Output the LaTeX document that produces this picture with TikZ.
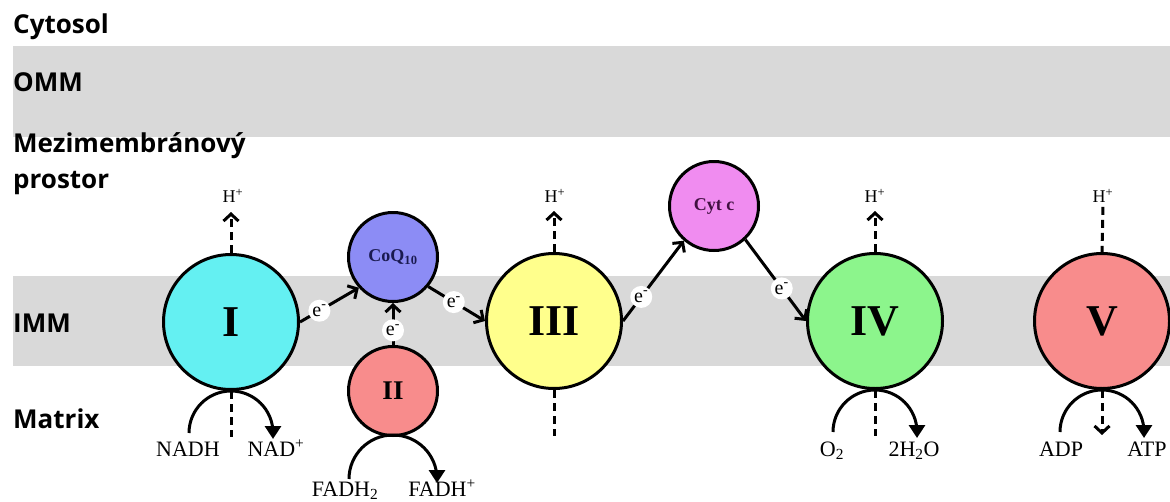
\documentclass[tikz,border=0pt]{standalone}
\usepackage{fontspec}
\setmainfont{Liberation Serif}
\newfontfamily\regionfont{Open Sans}
\usetikzlibrary{arrows.meta,calc}

\definecolor{bandgray}{RGB}{217,217,217}
\definecolor{cI}{RGB}{100,240,242}
\definecolor{cQ}{RGB}{140,140,245}
\definecolor{cII}{RGB}{248,140,140}
\definecolor{cIII}{RGB}{255,255,140}
\definecolor{cCyt}{RGB}{240,140,240}
\definecolor{cIV}{RGB}{140,245,140}
\definecolor{qtext}{RGB}{26,26,80}
\definecolor{cyttext}{RGB}{64,16,64}

\tikzset{
  band/.style={fill=bandgray, draw=none},
  region/.style={font=\regionfont\bfseries\fontsize{26}{30}\selectfont, anchor=base west, inner sep=0pt},
  complex/.style={circle, draw=black, line width=3pt, inner sep=0pt},
  bigcx/.style={complex, minimum size=135pt, font=\bfseries\fontsize{44}{46}\selectfont},
  smallcx/.style={complex, minimum size=89pt},
  hplus/.style={font=\fontsize{18}{20}\selectfont, inner sep=0pt},
  chem/.style={font=\fontsize{22}{24}\selectfont, inner sep=0pt, anchor=base},
  eminus/.style={circle, fill=white, inner sep=0.5pt, minimum size=22pt, font=\fontsize{20}{22}\selectfont},
  barb/.style={-{Straight Barb[length=7pt,width=15pt]}},
  eflow/.style={line width=3pt, barb},
  pump/.style={line width=3pt, dash pattern=on 8pt off 5pt},
  pumpup/.style={pump, barb},
  react/.style={line width=3pt, -{Triangle[length=13pt,width=16pt]}}
}

\begin{document}
\begin{tikzpicture}[x=1pt,y=-1pt]
\useasboundingbox (0,0) rectangle (1170,501);
\clip (0,0) rectangle (1170,501);

% membranes
\fill[band] (13,46) rectangle (1170,137);
\fill[band] (13,276) rectangle (1170,366);

% compartment names
\node[region] (cyto) at (13,33) {Cytosol};
\node[region] (omm) at (13,91) {OMM};
\node[region] (ims1) at (13,152) {Mezimembránový};
\node[region] (ims2) at (13,188) {prostor};
\node[region] (imm) at (13,332) {IMM};
\node[region] (mtx) at (13,428) {Matrix};

% respiratory complexes
\node[bigcx, fill=cI] (I) at (231,322) {I};
\node[smallcx, fill=cQ, text=qtext, font=\bfseries\fontsize{18}{20}\selectfont] (coq) at (393,257) {CoQ\textsubscript{10}};
\node[smallcx, fill=cII, font=\bfseries\fontsize{27}{29}\selectfont] (II) at (393,391) {II};
\node[bigcx, fill=cIII] (III) at (554,321) {III};
\node[smallcx, fill=cCyt, text=cyttext, font=\bfseries\fontsize{18}{20}\selectfont] (cyt) at (714,206) {Cyt c};
\node[bigcx, fill=cIV] (IV) at (875,321) {IV};
\node[bigcx, fill=cII] (V) at (1102,321) {V};

% protons
\node[hplus] (hI) at (233,196) {H\textsuperscript{+}};
\node[hplus] (hIII) at (555,196) {H\textsuperscript{+}};
\node[hplus] (hIV) at (875,196) {H\textsuperscript{+}};
\node[hplus] (hV) at (1103,196) {H\textsuperscript{+}};

\draw[pumpup] (I.north) -- ++(0,-41);
\draw[pumpup] (III.north) -- ++(0,-41);
\draw[pumpup] (IV.north) -- ++(0,-41);
\draw[pump, shorten <=4pt] (hV.south) -- (V.north);

\draw[pump] (I.south) -- ++(0,46);
\draw[pump] (III.south) -- ++(0,46);
\draw[pump] (IV.south) -- ++(0,46);
\draw[pump, barb] (V.south) -- ++(0,45);

% electron transfer
\draw[eflow] (I.east) -- node[eminus, pos=0.33] {e\textsuperscript{-}} (coq.-138);
\draw[eflow] (coq.-40) -- node[eminus, pos=0.45] {e\textsuperscript{-}} (III.west);
\draw[eflow] (II.north) -- node[eminus, pos=0.35] {e\textsuperscript{-}} (coq.south);
\draw[eflow] (III.east) -- node[eminus, pos=0.3] {e\textsuperscript{-}} (cyt.-131);
\draw[eflow] (cyt.-47) -- node[eminus, pos=0.6] {e\textsuperscript{-}} (IV.west);

% substrates and products
\node[chem] (nadh) at (188,456) {NADH};
\node[chem] (nad) at (276,456) {NAD\textsuperscript{+}};
\node[chem] (fadh2) at (345,496) {FADH\textsubscript{2}};
\node[chem] (fadh) at (442,496) {FADH\textsuperscript{+}};
\node[chem] (o2) at (832,456) {O\textsubscript{2}};
\node[chem] (h2o) at (914,456) {2H\textsubscript{2}O};
\node[chem] (adp) at (1061,456) {ADP};
\node[chem] (atp) at (1147,456) {ATP};

\draw[react] ($(I.south)+(-42,42)$) arc[start angle=180, end angle=360, radius=42] -- ++(0,6);
\draw[react] ($(II.south)+(-44,42)$) arc[start angle=180, end angle=360, radius=44] -- ++(0,4);
\draw[react] ($(IV.south)+(-42,42)$) arc[start angle=180, end angle=360, radius=42] -- ++(0,6);
\draw[react] ($(V.south)+(-42,42)$) arc[start angle=180, end angle=360, radius=42] -- ++(0,6);
\end{tikzpicture}
\end{document}
